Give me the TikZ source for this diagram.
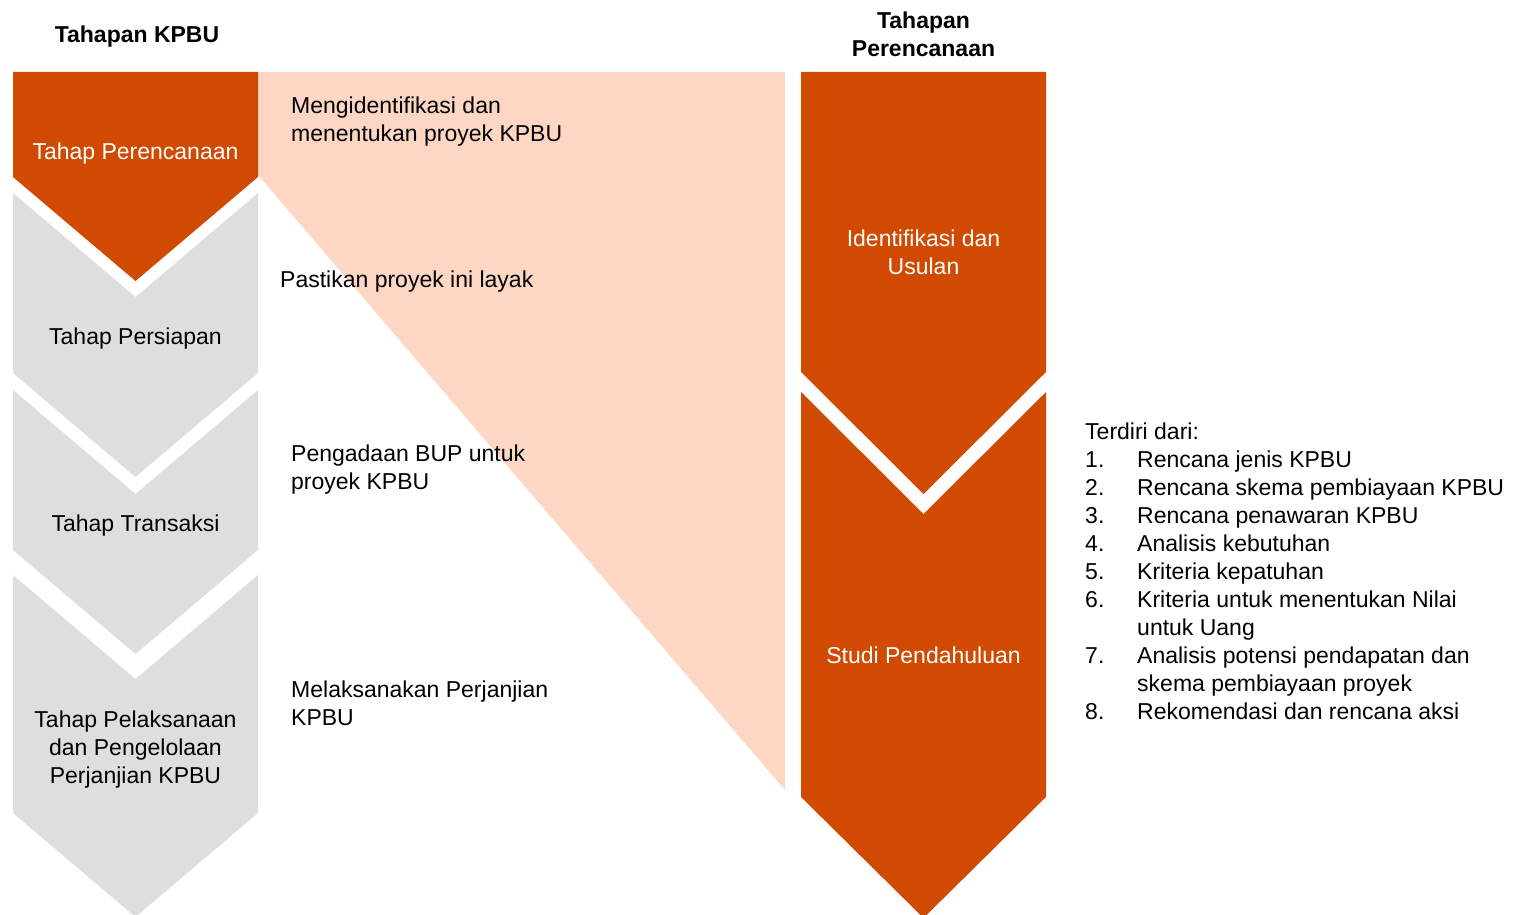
\documentclass[tikz,border=0pt]{standalone}
\usepackage{fontspec}
\setmainfont{Liberation Sans}
\definecolor{pwcorange}{HTML}{D04A02}
\definecolor{pwcpink}{HTML}{FDD6C4}
\definecolor{pwcgray}{HTML}{DEDEDE}
\tikzset{
  txt/.style={inner sep=0pt, font=\fontsize{23}{28}\selectfont, align=center},
  txtl/.style={txt, align=left, anchor=west},
  head/.style={txt, font=\fontsize{23}{28}\selectfont\bfseries}
}
\begin{document}
\begin{tikzpicture}[x=1pt, y=-1pt]
\useasboundingbox (0, 0) rectangle (1515, 915);
% pink band
\fill[pwcpink] (258, 72) -- (785, 72) -- (785, 790) -- (258, 175) -- cycle;
% left column
\fill[pwcorange] (13, 72) -- (258, 72) -- (258, 177) -- (135.5, 281) -- (13, 177) -- cycle;
\fill[pwcgray] (13, 193) -- (135.5, 297) -- (258, 193) -- (258, 373) -- (135.5, 477) -- (13, 373) -- cycle;
\fill[pwcgray] (13, 390) -- (135.5, 494) -- (258, 390) -- (258, 550) -- (135.5, 654) -- (13, 550) -- cycle;
\fill[pwcgray] (13, 575) -- (135.5, 679) -- (258, 575) -- (258, 813) -- (135.5, 917) -- (13, 813) -- cycle;
% right column
\fill[pwcorange] (801, 72) -- (1046, 72) -- (1046, 372) -- (923.5, 494) -- (801, 372) -- cycle;
\fill[pwcorange] (801, 392) -- (923.5, 514) -- (1046, 392) -- (1046, 797) -- (923.5, 918) -- (801, 797) -- cycle;

\node[head] (hkpbu) at (137, 37) {Tahapan KPBU};
\node[head] (hplan) at (923.5, 34) {Tahapan\\Perencanaan};

\node[txt, white] (perencanaan) at (135.5, 154) {Tahap Perencanaan};
\node[txt] (persiapan) at (135.5, 339) {Tahap Persiapan};
\node[txt] (transaksi) at (135.5, 526) {Tahap Transaksi};
\node[txt] (pelaksanaan) at (135.5, 750) {Tahap Pelaksanaan\\dan Pengelolaan\\Perjanjian KPBU};

\node[txtl] (identifikasi) at (291, 122) {Mengidentifikasi dan\\menentukan proyek KPBU};
\node[txtl] (layak) at (280, 282) {Pastikan proyek ini layak};
\node[txtl] (pengadaan) at (291, 470) {Pengadaan BUP untuk\\proyek KPBU};
\node[txtl] (melaksanakan) at (291, 703) {Melaksanakan Perjanjian\\KPBU};

\node[txt, white] (usulan) at (923.5, 252) {Identifikasi dan\\Usulan};
\node[txt, white] (studi) at (923.5, 655) {Studi Pendahuluan};

\node[txtl] (terdiri) at (1085, 571) {Terdiri dari:\\
\makebox[52pt][l]{1.}Rencana jenis KPBU\\
\makebox[52pt][l]{2.}Rencana skema pembiayaan KPBU\\
\makebox[52pt][l]{3.}Rencana penawaran KPBU\\
\makebox[52pt][l]{4.}Analisis kebutuhan\\
\makebox[52pt][l]{5.}Kriteria kepatuhan\\
\makebox[52pt][l]{6.}Kriteria untuk menentukan Nilai\\
\hspace*{52pt}untuk Uang\\
\makebox[52pt][l]{7.}Analisis potensi pendapatan dan\\
\hspace*{52pt}skema pembiayaan proyek\\
\makebox[52pt][l]{8.}Rekomendasi dan rencana aksi};

\end{tikzpicture}
\end{document}
